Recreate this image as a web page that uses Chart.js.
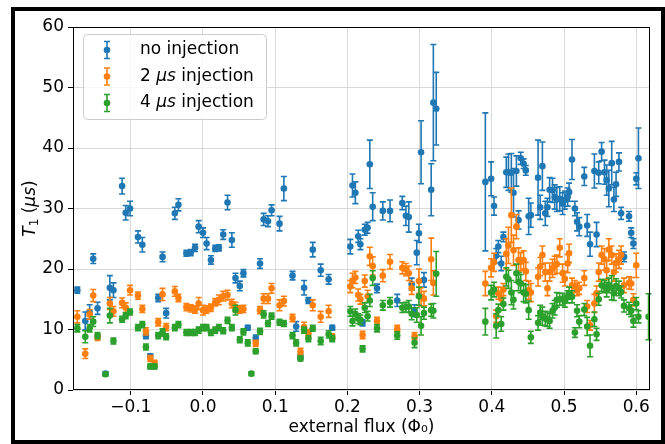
<!DOCTYPE html>
<html>
<head>
<meta charset="utf-8">
<title>T1 vs external flux</title>
<script src="https://cdn.jsdelivr.net/npm/chart.js@4.4.1/dist/chart.umd.min.js"></script>
<style>
  html, body { margin: 0; padding: 0; background: #fff; }
  #wrap { position: relative; width: 665px; height: 444px; }
</style>
</head>
<body>
<div id="wrap"><canvas id="myChart" width="665" height="444"></canvas></div>
<script>
// external flux, shared by the three series
var flux = [
    -0.174, -0.163, -0.157, -0.152, -0.146, -0.135, -0.129, -0.124, -0.112, -0.107,
    -0.101, -0.090, -0.084, -0.079, -0.073, -0.067, -0.062, -0.056, -0.051, -0.039,
    -0.034, -0.023, -0.017, -0.011, -0.006, 0.000, 0.005, 0.011, 0.017, 0.022,
    0.028, 0.034, 0.040, 0.045, 0.051, 0.056, 0.062, 0.067, 0.073, 0.079,
    0.084, 0.090, 0.095, 0.106, 0.112, 0.124, 0.129, 0.135, 0.140, 0.146,
    0.152, 0.163, 0.174, 0.179,
    0.204, 0.207, 0.211, 0.215, 0.218, 0.221, 0.224, 0.228, 0.231, 0.235,
    0.241, 0.249, 0.259, 0.269, 0.276, 0.281, 0.285, 0.289, 0.293, 0.296,
    0.299, 0.302, 0.306, 0.316, 0.319, 0.323,
    0.391, 0.399, 0.403, 0.406, 0.409, 0.413, 0.416, 0.420, 0.423, 0.427,
    0.430, 0.434, 0.437, 0.440, 0.444, 0.447, 0.451, 0.454, 0.464, 0.467,
    0.470, 0.474, 0.477, 0.480, 0.484, 0.487, 0.490, 0.494, 0.498, 0.501,
    0.505, 0.507, 0.511, 0.515, 0.518, 0.521, 0.528, 0.532, 0.536, 0.542,
    0.545, 0.548, 0.552, 0.556, 0.559, 0.562, 0.566, 0.569, 0.572, 0.576,
    0.579, 0.583, 0.590, 0.593, 0.596, 0.600, 0.603, 0.617
];

// T1 (us), no injection
var t1None = [
    16.5, 11.4, 12.9, 21.7, 13.5, 2.7, 16.9, 16.5, 33.7, 29.3,
    30.0, 25.3, 24.0, 9.0, 5.6, null, 15.2, 22.0, 12.7, 29.2,
    30.6, 22.6, 22.7, 23.5, 27.0, 26.0, 24.2, 21.5, 23.4, 23.5,
    25.7, 31.0, 24.8, 18.5, 17.2, 19.3, 10.3, null, 8.6, 20.9,
    28.2, 27.9, 29.7, 27.5, 33.3, 18.9, 10.5, 5.5, 16.9, 14.8,
    23.2, 19.8, 18.3, 10.3,
    23.7, 33.8, 32.6, 25.4, 24.1, 11.1, 26.5, 26.8, 37.3, 30.3,
    16.8, 29.6, 29.6, 14.8, 30.9, 28.8, 28.6, 17.5, 13.1, 22.7,
    25.9, 39.3, 18.2, 33.1, 47.5, 46.5,
    34.4, 34.9, 30.4, 22.2, 23.7, 20.9, 25.3, 36.0, 36.0, 35.9,
    32.6, 36.2, 28.1, 38.3, 37.4, 36.3, 28.7, 28.9, 35.1, 30.2,
    37.0, 29.2, 30.2, 33.1, 33.0, 31.9, 31.5, 31.6, 30.8, 31.4,
    31.9, 32.7, 38.1, 30.0, 27.8, 27.0, 35.3, 27.2, 24.1, 36.2,
    25.7, 35.9, 39.4, 36.0, 34.7, 33.3, 37.5, 31.5, 34.0, 37.7,
    29.2, 22.0, 28.7, 26.0, 24.2, 34.9, 38.3, null
];
var errNone = [
    0.5, 1.5, 1.2, 0.8, 1.0, 0.3, 2.0, 1.2, 1.3, 1.2,
    1.2, 1.0, 1.2, 0.5, 0.4, 0, 0.6, 0.8, 0.8, 1.0,
    1.0, 0.5, 0.5, 0.6, 1.0, 0.8, 1.0, 0.7, 0.5, 0.5,
    0.8, 1.2, 1.2, 0.8, 0.8, 0.6, 0.4, 0, 0.5, 0.8,
    1.0, 0.9, 0.9, 1.2, 2.0, 0.7, 0.8, 0.4, 1.2, 0.5,
    1.2, 1.0, 0.8, 0.4,
    1.2, 1.9, 1.8, 1.0, 0.9, 0.5, 0.9, 0.9, 4.0, 2.3,
    0.7, 1.5, 1.8, 1.0, 1.1, 1.6, 2.5, 1.0, 1.0, 2.0,
    1.5, 5.2, 1.2, 4.3, 9.6, 6.0,
    11.4, 2.8, 1.5, 1.2, 1.0, 1.2, 0.8, 2.5, 3.0, 3.2,
    4.0, 2.5, 1.5, 1.0, 0.8, 0.8, 3.0, 2.0, 6.2, 2.0,
    4.0, 2.0, 1.5, 2.0, 2.0, 2.0, 2.0, 2.0, 1.8, 1.5,
    1.5, 1.5, 3.3, 1.2, 1.5, 1.5, 1.5, 1.8, 2.0, 2.8,
    2.0, 1.8, 1.5, 2.0, 2.5, 3.0, 3.6, 2.0, 2.0, 1.5,
    1.0, 0.8, 0.8, 0.8, 0.8, 1.0, 5.0, 0
];

// T1 (us), 2 us injection
var t1Two = [
    12.1, 6.0, 12.5, 15.6, 8.7, null, 14.3, 13.0, 14.4, 13.6,
    16.5, 15.6, 13.4, 9.7, 5.2, 4.4, 11.2, 15.8, 10.4, 16.3,
    15.2, 13.7, 13.5, 13.3, 14.3, 13.2, 13.3, 13.6, 14.5, 14.9,
    15.5, 15.7, 14.3, 13.7, 13.3, 13.4, null, null, 7.7, 13.2,
    15.1, 15.1, 16.8, 14.0, 14.7, 11.9, null, 6.3, 10.4, 9.4,
    14.0, 12.1, 13.0, 8.8,
    17.1, 18.1, 18.6, 15.7, 15.0, 9.1, 18.0, 15.5, 22.1, 20.5,
    11.4, 18.9, 21.2, 10.1, 20.2, 19.9, 19.3, 16.8, 8.9, null,
    18.0, 15.4, 15.1, 21.6, 17.7, null,
    17.6, 20.2, 21.1, 12.2, 16.0, 15.1, 16.6, 22.5, 23.9, 28.9,
    23.1, 27.0, 21.5, 21.2, 21.5, 19.6, 16.5, 16.1, 18.7, 20.4,
    22.3, 19.5, 16.8, 19.5, 20.1, 20.6, 20.8, 23.5, 19.3, 18.4,
    20.9, 22.6, 17.3, 17.1, 16.6, 16.8, 18.5, 13.8, 10.7, 14.3,
    16.0, 19.5, 22.3, 21.6, 19.8, 23.2, 22.3, 19.5, 21.0, 21.6,
    22.3, 17.3, 17.7, 17.6, 14.9, 20.6, null, null
];
var errTwo = [
    1.0, 0.8, 0.8, 1.0, 0.5, 0, 1.0, 0.8, 0.8, 0.8,
    0.8, 0.6, 0.6, 0.6, 0.5, 0.5, 0.6, 1.0, 0.6, 0.8,
    0.6, 0.6, 0.6, 0.6, 1.0, 0.8, 0.6, 0.6, 0.6, 0.8,
    0.8, 0.8, 0.7, 0.8, 0.6, 0.6, 0, 0, 0.5, 0.6,
    0.8, 0.8, 0.8, 0.9, 0.8, 0.6, 0, 0.6, 0.8, 0.6,
    0.9, 0.9, 1.0, 0.5,
    1.0, 1.2, 1.0, 1.0, 0.8, 0.6, 1.0, 1.0, 1.5, 1.5,
    0.6, 1.0, 1.2, 0.6, 1.0, 1.0, 1.2, 1.0, 0.6, 0,
    2.0, 1.5, 1.2, 3.5, 2.0, 0,
    2.0, 1.5, 1.5, 1.0, 1.0, 1.0, 1.0, 2.5, 3.0, 4.5,
    2.5, 2.0, 2.0, 1.5, 1.5, 1.5, 1.5, 1.5, 1.5, 1.5,
    1.5, 1.5, 1.2, 1.5, 1.5, 1.5, 1.5, 1.5, 1.5, 1.2,
    1.5, 1.5, 1.2, 1.0, 1.0, 1.0, 1.2, 1.0, 0.8, 1.5,
    1.2, 1.5, 1.5, 1.8, 1.5, 1.8, 1.5, 1.5, 1.5, 1.5,
    1.5, 1.2, 1.0, 1.0, 1.0, 2.0, 0, 0
];

// T1 (us), 4 us injection
var t1Four = [
    10.2, 8.8, 10.2, 11.3, 9.0, 2.6, 12.3, 8.1, 11.7, 12.3,
    12.9, 10.3, 10.8, 7.1, 3.9, 3.9, 9.0, 9.5, 8.8, 10.3,
    10.8, 9.5, 9.5, 9.5, 9.9, 10.3, 10.3, 9.5, 9.9, 10.3,
    9.8, 11.5, 10.3, 13.2, 8.3, 9.6, 7.8, 2.7, 6.4, 9.7,
    12.5, 11.0, 12.2, 11.2, 11.0, 9.0, 7.8, 5.2, 9.9, 8.5,
    10.2, 8.1, 9.2, 8.5,
    13.0, 11.4, 12.6, 11.8, 11.6, 6.8, 13.6, 12.2, 14.8, 18.5,
    10.2, 14.0, 14.5, 9.0, 13.6, 13.7, 13.8, 12.6, 7.8, 12.4,
    15.5, 10.6, 12.7, 13.2, 13.1, 19.2,
    11.3, 16.1, 16.6, 10.6, 13.2, 10.9, 14.2, 18.7, 18.3, 16.1,
    14.9, 19.3, 17.9, 17.6, 16.1, 15.9, 13.2, 8.7, 11.1, 12.8,
    12.2, 11.8, 11.7, 11.4, 13.1, 13.6, 14.9, 15.0, 15.0, 14.7,
    15.4, 16.0, 15.4, 9.5, 13.1, 11.3, 13.3, 10.5, 7.3, 11.7,
    9.2, 15.0, 17.3, 17.1, 16.6, 17.3, 16.9, 16.0, 17.2, 16.8,
    16.2, 13.9, 13.5, 13.1, 11.4, 14.3, 12.1, 12.1
];
var errFour = [
    0.6, 1.0, 0.6, 0.8, 0.5, 0.3, 1.2, 0.5, 0.5, 0.5,
    0.5, 0.5, 0.5, 0.5, 0.4, 0.4, 0.5, 0.6, 0.5, 0.5,
    0.5, 0.5, 0.5, 0.5, 0.5, 0.5, 0.5, 0.5, 0.5, 0.5,
    0.5, 0.5, 0.5, 0.8, 0.5, 0.5, 0.5, 0.3, 0.4, 0.5,
    0.6, 0.5, 0.5, 0.5, 0.5, 0.5, 0.5, 0.4, 0.5, 0.5,
    0.5, 0.6, 0.6, 0.5,
    0.8, 0.8, 0.8, 0.8, 0.8, 0.5, 0.8, 0.8, 1.0, 1.2,
    0.6, 0.8, 0.8, 0.6, 0.8, 0.8, 1.0, 1.0, 0.8, 1.2,
    1.5, 1.5, 1.0, 1.0, 1.2, 3.7,
    2.2, 1.2, 1.2, 2.0, 1.0, 1.2, 1.0, 1.5, 1.5, 2.0,
    1.5, 1.5, 1.5, 1.5, 1.5, 1.5, 1.5, 1.0, 1.2, 1.2,
    1.5, 1.2, 1.2, 1.2, 1.2, 1.2, 1.2, 1.0, 1.0, 1.0,
    1.0, 1.0, 1.0, 0.8, 1.0, 1.0, 1.0, 1.5, 1.8, 1.2,
    1.0, 1.0, 1.0, 1.0, 1.2, 1.2, 2.0, 1.2, 1.2, 1.2,
    1.0, 1.0, 1.0, 1.0, 1.0, 1.0, 1.0, 3.8
];

var xTicks = [-0.1, 0.0, 0.1, 0.2, 0.3, 0.4, 0.5, 0.6];
var xTickLabels = ['\u22120.1', '0.0', '0.1', '0.2', '0.3', '0.4', '0.5', '0.6'];
var yTicks = [0, 10, 20, 30, 40, 50, 60];

var seriesLabels = ['no injection', '2 \u03bcs injection', '4 \u03bcs injection'];
var seriesColors = ['#1f77b4', '#ff7f0e', '#2ca02c'];

var FONT = 'DejaVu Sans';
Chart.defaults.font.family = FONT;
Chart.defaults.font.size = 17;
Chart.defaults.color = '#000';


function make_points(ys, errs) {
    var out = [];
    for (var i = 0; i < flux.length; i++) {
        if (ys[i] === null) continue;
        out.push({ x: flux[i], y: ys[i], err: errs[i] });
    }
    return out;
}

// vertical error bars with caps, drawn just before each dataset's markers
var errorBars = {
    id: 'errorBars',
    beforeDatasetDraw: function(chart, args) {
        var ds = chart.data.datasets[args.index];
        var yScale = chart.scales.y;
        var ctx = chart.ctx;
        ctx.save();
        ctx.strokeStyle = ds.backgroundColor;
        ctx.lineWidth = 1.6;
        args.meta.data.forEach(function(pt, i) {
            var d = ds.data[i];
            if (!d.err) return;
            var top = yScale.getPixelForValue(d.y + d.err);
            var bot = yScale.getPixelForValue(d.y - d.err);
            ctx.beginPath();
            ctx.moveTo(pt.x, top); ctx.lineTo(pt.x, bot);
            ctx.moveTo(pt.x - 3, top); ctx.lineTo(pt.x + 3, top);
            ctx.moveTo(pt.x - 3, bot); ctx.lineTo(pt.x + 3, bot);
            ctx.stroke();
        });
        ctx.restore();
    }
};

// draws runs of text, parts in italic or smaller as subscript
function draw_runs(ctx, runs, x, y, align) {
    var total = 0;
    runs.forEach(function(r) {
        ctx.font = (r.italic ? 'italic ' : '') + r.size + 'px "' + FONT + '"';
        r.w = ctx.measureText(r.t).width;
        total += r.w;
    });
    var cx = align === 'center' ? x - total / 2 : x;
    runs.forEach(function(r) {
        ctx.font = (r.italic ? 'italic ' : '') + r.size + 'px "' + FONT + '"';
        ctx.fillText(r.t, cx, y + (r.dy || 0));
        cx += r.w;
    });
}

function label_runs(label) {
    var k = label.indexOf('\u03bcs');
    if (k < 0) return [{ t: label, size: 17 }];
    return [
        { t: label.slice(0, k), size: 17 },
        { t: '\u03bcs', size: 17, italic: true },
        { t: label.slice(k + 2), size: 17 }
    ];
}

var decorations = {
    id: 'decorations',
    afterDraw: function(chart) {
        var ctx = chart.ctx;
        var a = chart.chartArea;
        ctx.save();

        // axes frame
        ctx.strokeStyle = '#000';
        ctx.lineWidth = 1;
        ctx.strokeRect(a.left + 0.5, a.top + 0.5, a.right - a.left - 1, a.bottom - a.top - 1);

        // legend
        var lx = 83, ly = 34, lw = 183, lh = 85;
        ctx.beginPath();
        ctx.roundRect(lx + 0.5, ly + 0.5, lw, lh, 4);
        ctx.fillStyle = 'rgba(255,255,255,0.8)';
        ctx.fill();
        ctx.strokeStyle = '#cccccc';
        ctx.stroke();
        ctx.textBaseline = 'middle';
        ctx.textAlign = 'left';
        chart.data.datasets.forEach(function(ds, i) {
            var ry = 50 + i * 26.5;
            var mx = 107;
            ctx.strokeStyle = ds.backgroundColor;
            ctx.lineWidth = 1.6;
            ctx.beginPath();
            ctx.moveTo(mx, ry - 8.5); ctx.lineTo(mx, ry + 8.5);
            ctx.moveTo(mx - 3, ry - 8.5); ctx.lineTo(mx + 3, ry - 8.5);
            ctx.moveTo(mx - 3, ry + 8.5); ctx.lineTo(mx + 3, ry + 8.5);
            ctx.stroke();
            ctx.fillStyle = ds.backgroundColor;
            ctx.beginPath();
            ctx.arc(mx, ry, 3.3, 0, Math.PI * 2);
            ctx.fill();
            ctx.fillStyle = '#000';
            draw_runs(ctx, label_runs(ds.label), 140, ry, 'left');
        });

        // y axis title
        ctx.save();
        ctx.translate(31, (a.top + a.bottom) / 2);
        ctx.rotate(-Math.PI / 2);
        ctx.fillStyle = '#000';
        draw_runs(ctx, [
            { t: 'T', size: 17, italic: true },
            { t: '1', size: 12, dy: 4 },
            { t: ' (', size: 17 },
            { t: '\u03bcs', size: 17, italic: true },
            { t: ')', size: 17 }
        ], 0, 0, 'center');
        ctx.restore();

        // figure border
        ctx.strokeStyle = '#000';
        ctx.lineWidth = 4;
        ctx.strokeRect(13, 9, 650, 433);
        ctx.restore();
    }
};

var ctx = document.getElementById('myChart').getContext('2d');
var myChart = new Chart(ctx, {
    type: 'scatter',
    data: {
        datasets: [
            { label: seriesLabels[0], data: make_points(t1None, errNone), backgroundColor: seriesColors[0], order: 3 },
            { label: seriesLabels[1], data: make_points(t1Two, errTwo), backgroundColor: seriesColors[1], order: 2 },
            { label: seriesLabels[2], data: make_points(t1Four, errFour), backgroundColor: seriesColors[2], order: 1 }
        ]
    },
    options: {
        responsive: false,
        animation: false,
        devicePixelRatio: 1,
        datasets: {
            scatter: { pointRadius: 3.3, pointBorderWidth: 0, pointHoverRadius: 3.3 }
        },
        layout: { padding: { left: 0, top: 27, right: 15, bottom: 0 } },
        plugins: {
            legend: { display: false },
            tooltip: { enabled: false }
        },
        scales: {
            x: {
                type: 'linear',
                min: -0.18,
                max: 0.619,
                bounds: 'data',
                afterBuildTicks: function(scale) {
                    scale.ticks = xTicks.map(function(v) { return { value: v }; });
                },
                afterFit: function(scale) { scale.height = 54; },
                grid: { color: '#d9d9d9', lineWidth: 1, tickLength: 5, tickColor: '#000', tickWidth: 1 },
                border: { display: false },
                ticks: {
                    autoSkip: false,
                    maxRotation: 0,
                    padding: 2,
                    font: { size: 17 },
                    callback: function(value, index) { return xTickLabels[index]; }
                },
                title: {
                    display: true,
                    text: 'external flux (\u03a6\u2080)',
                    font: { size: 17 },
                    padding: { top: 0, bottom: 6 }
                }
            },
            y: {
                min: 0,
                max: 60,
                afterBuildTicks: function(scale) {
                    scale.ticks = yTicks.map(function(v) { return { value: v }; });
                },
                afterFit: function(scale) { scale.width = 73; },
                grid: { color: '#d9d9d9', lineWidth: 1, tickLength: 5, tickColor: '#000', tickWidth: 1 },
                border: { display: false },
                ticks: { padding: 4, font: { size: 17 } }
            }
        }
    },
    plugins: [errorBars, decorations]
});
</script>
</body>
</html>
